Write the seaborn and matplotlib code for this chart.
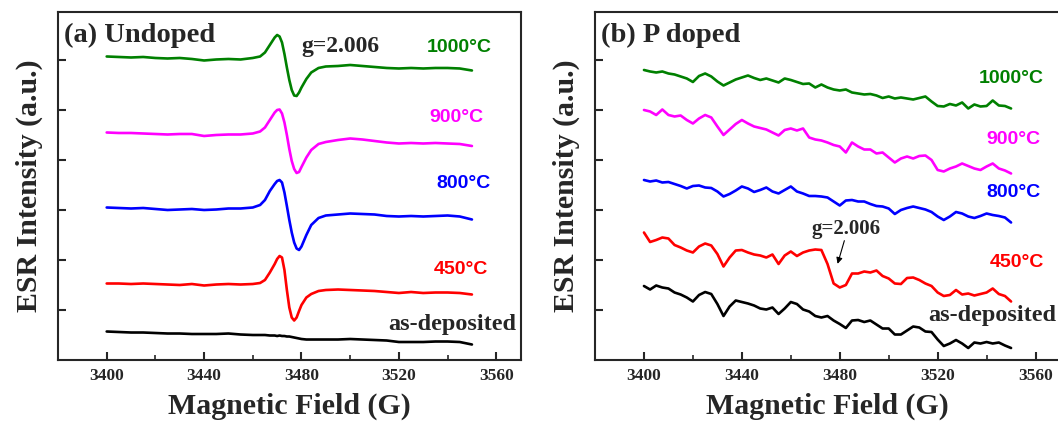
import matplotlib
matplotlib.use("Agg")
import matplotlib.pyplot as plt
import seaborn as sns
from matplotlib.ticker import MultipleLocator

# ---------- panel (a): undoped ----------
field_a = [3400, 3405, 3410, 3415, 3420, 3425, 3430, 3435, 3440, 3445, 3450,
           3455, 3460, 3463, 3465, 3467, 3469, 3470, 3471, 3472, 3473, 3474,
           3475, 3476, 3477, 3478, 3479, 3480, 3482, 3484, 3487, 3490, 3495,
           3500, 3505, 3510, 3515, 3520, 3525, 3530, 3535, 3540, 3545, 3550]

a_1000 = [6.07, 6.06, 6.05, 6.06, 6.04, 6.03, 6.04, 6.02, 5.99, 6.01, 6.02,
          6.01, 6.04, 6.07, 6.15, 6.30, 6.45, 6.50, 6.47, 6.35, 6.12, 5.85,
          5.60, 5.40, 5.29, 5.28, 5.35, 5.45, 5.62, 5.75, 5.84, 5.87, 5.88,
          5.90, 5.88, 5.86, 5.84, 5.83, 5.84, 5.83, 5.84, 5.84, 5.83, 5.79]
a_900 = [4.55, 4.54, 4.54, 4.53, 4.52, 4.51, 4.52, 4.52, 4.48, 4.50, 4.51,
         4.51, 4.53, 4.57, 4.65, 4.80, 4.95, 5.00, 5.01, 4.93, 4.75, 4.50,
         4.22, 3.98, 3.82, 3.74, 3.76, 3.86, 4.05, 4.20, 4.32, 4.36, 4.40,
         4.43, 4.41, 4.38, 4.35, 4.33, 4.34, 4.33, 4.34, 4.33, 4.32, 4.28]
a_800 = [3.05, 3.04, 3.03, 3.04, 3.02, 3.00, 3.01, 3.02, 3.00, 3.01, 3.03,
         3.03, 3.05, 3.10, 3.20, 3.38, 3.52, 3.58, 3.60, 3.55, 3.35, 3.08,
         2.80, 2.55, 2.35, 2.23, 2.20, 2.27, 2.50, 2.70, 2.84, 2.89, 2.91,
         2.93, 2.92, 2.91, 2.88, 2.87, 2.88, 2.87, 2.88, 2.89, 2.87, 2.81]
a_450 = [1.53, 1.53, 1.52, 1.53, 1.52, 1.51, 1.50, 1.52, 1.49, 1.51, 1.52,
         1.51, 1.52, 1.54, 1.60, 1.75, 1.92, 2.02, 2.08, 2.05, 1.80, 1.40,
         1.05, 0.85, 0.79, 0.85, 0.98, 1.10, 1.25, 1.32, 1.38, 1.40, 1.41,
         1.40, 1.39, 1.38, 1.36, 1.34, 1.36, 1.34, 1.35, 1.35, 1.34, 1.31]
a_asdep = [0.57, 0.56, 0.55, 0.55, 0.54, 0.53, 0.53, 0.52, 0.52, 0.52, 0.53,
           0.51, 0.50, 0.50, 0.50, 0.49, 0.49, 0.48, 0.49, 0.48, 0.48, 0.47,
           0.47, 0.46, 0.45, 0.44, 0.43, 0.42, 0.41, 0.41, 0.41, 0.41, 0.41,
           0.42, 0.41, 0.40, 0.39, 0.36, 0.36, 0.36, 0.37, 0.37, 0.36, 0.31]

# ---------- panel (b): P doped ----------
field_b = [3400, 3402.5, 3405, 3407.5, 3410, 3412.5, 3415, 3417.5, 3420, 3422.5,
           3425, 3427.5, 3430, 3432.5, 3435, 3437.5, 3440, 3442.5, 3445, 3447.5,
           3450, 3452.5, 3455, 3457.5, 3460, 3462.5, 3465, 3467.5, 3470, 3472.5,
           3475, 3477.5, 3480, 3482.5, 3485, 3487.5, 3490, 3492.5, 3495, 3497.5,
           3500, 3502.5, 3505, 3507.5, 3510, 3512.5, 3515, 3517.5, 3520, 3522.5,
           3525, 3527.5, 3530, 3532.5, 3535, 3537.5, 3540, 3542.5, 3545, 3547.5,
           3550]

b_1000 = [5.80, 5.77, 5.75, 5.77, 5.73, 5.71, 5.67, 5.63, 5.56, 5.68,
          5.73, 5.67, 5.57, 5.49, 5.55, 5.61, 5.65, 5.69, 5.64, 5.60,
          5.63, 5.59, 5.55, 5.63, 5.60, 5.56, 5.52, 5.53, 5.45, 5.51,
          5.45, 5.41, 5.39, 5.41, 5.35, 5.33, 5.31, 5.32, 5.29, 5.24,
          5.27, 5.23, 5.25, 5.23, 5.21, 5.24, 5.27, 5.17, 5.08, 5.07,
          5.12, 5.09, 5.15, 5.03, 5.11, 5.07, 5.08, 5.19, 5.09, 5.08,
          5.03]
b_900 = [5.00, 4.97, 4.90, 5.01, 4.90, 4.87, 4.89, 4.80, 4.73, 4.83,
         4.90, 4.85, 4.67, 4.50, 4.61, 4.72, 4.80, 4.73, 4.67, 4.64,
         4.61, 4.55, 4.49, 4.60, 4.63, 4.59, 4.63, 4.45, 4.41, 4.39,
         4.35, 4.30, 4.27, 4.15, 4.35, 4.27, 4.21, 4.21, 4.13, 4.15,
         4.05, 3.95, 4.03, 4.07, 4.03, 4.08, 4.09, 4.00, 3.80, 3.77,
         3.83, 3.87, 3.93, 3.88, 3.83, 3.80, 3.87, 3.93, 3.83, 3.79,
         3.73]
b_800 = [3.60, 3.57, 3.59, 3.55, 3.56, 3.52, 3.48, 3.43, 3.48, 3.49,
         3.45, 3.44, 3.37, 3.27, 3.32, 3.39, 3.47, 3.43, 3.36, 3.40,
         3.45, 3.37, 3.33, 3.40, 3.47, 3.37, 3.33, 3.28, 3.28, 3.27,
         3.25, 3.17, 3.09, 3.19, 3.20, 3.17, 3.17, 3.12, 3.08, 3.07,
         3.03, 2.92, 3.00, 3.04, 3.07, 3.04, 3.01, 2.96, 2.87, 2.80,
         2.87, 2.96, 2.93, 2.87, 2.84, 2.88, 2.93, 2.90, 2.88, 2.85,
         2.75]
b_450 = [2.55, 2.36, 2.40, 2.45, 2.43, 2.30, 2.25, 2.19, 2.15, 2.27,
         2.33, 2.29, 2.12, 1.87, 2.05, 2.19, 2.20, 2.15, 2.11, 2.09,
         2.05, 2.11, 1.92, 2.09, 2.17, 2.08, 2.15, 2.19, 2.21, 2.20,
         1.92, 1.53, 1.45, 1.50, 1.73, 1.73, 1.77, 1.75, 1.79, 1.68,
         1.63, 1.53, 1.52, 1.64, 1.65, 1.60, 1.53, 1.48, 1.35, 1.28,
         1.30, 1.40, 1.31, 1.33, 1.29, 1.32, 1.35, 1.43, 1.32, 1.28,
         1.17]
b_asdep = [1.48, 1.41, 1.49, 1.45, 1.43, 1.35, 1.31, 1.25, 1.17, 1.30,
           1.36, 1.32, 1.12, 0.88, 1.07, 1.19, 1.16, 1.13, 1.09, 1.03,
           1.01, 1.05, 0.92, 1.03, 1.16, 1.12, 1.01, 0.97, 0.88, 0.85,
           0.88, 0.79, 0.72, 0.64, 0.79, 0.80, 0.76, 0.79, 0.71, 0.63,
           0.63, 0.51, 0.51, 0.59, 0.67, 0.65, 0.57, 0.56, 0.41, 0.28,
           0.33, 0.40, 0.33, 0.24, 0.35, 0.33, 0.36, 0.33, 0.35, 0.29,
           0.24]

labels = ["1000°C", "900°C", "800°C", "450°C", "as-deposited"]
colors = ["#008000", "#ff00ff", "#0000ff", "#ff0000", "#000000"]

sns.set_theme(style="ticks")
plt.rcParams["font.family"] = ["Liberation Serif", "DejaVu Serif"]
plt.rcParams["font.weight"] = "bold"
plt.rcParams["axes.labelweight"] = "bold"
plt.rcParams["axes.linewidth"] = 1.5

fig = plt.figure(figsize=(10.58, 4.22), dpi=100)
ax_a = fig.add_axes([0.0548, 0.1469, 0.4373, 0.8247])
ax_b = fig.add_axes([0.5624, 0.1469, 0.4395, 0.8247])

series_a = [a_1000, a_900, a_800, a_450, a_asdep]
series_b = [b_1000, b_900, b_800, b_450, b_asdep]

for vals, c in zip(series_a, colors):
    sns.lineplot(x=field_a, y=vals, ax=ax_a, color=c, linewidth=1.9)
for vals, c in zip(series_b, colors):
    sns.lineplot(x=field_b, y=vals, ax=ax_b, color=c, linewidth=1.9)

for ax in (ax_a, ax_b):
    ax.set_xlim(3380, 3570)
    ax.set_ylim(0, 6.96)
    ax.xaxis.set_major_locator(MultipleLocator(40))
    ax.xaxis.set_minor_locator(MultipleLocator(20))
    ax.set_yticks([1, 2, 3, 4, 5, 6])
    ax.set_yticklabels([])
    ax.tick_params(which="major", direction="in", length=6, width=1.5,
                   labelsize=12.5, pad=6)
    ax.tick_params(which="minor", direction="in", length=3.5, width=1.2)
    for lab in ax.get_xticklabels():
        lab.set_fontweight("bold")
    ax.set_xlabel("Magnetic Field (G)", fontsize=21.5, labelpad=6)
    ax.set_ylabel("ESR Intensity (a.u.)", fontsize=21.5, labelpad=5)
    for sp in ax.spines.values():
        sp.set_visible(True)
        sp.set_linewidth(1.5)

sans = ["Liberation Sans", "DejaVu Sans"]

# panel (a) annotations
ax_a.text(0.012, 0.914, "(a) Undoped", transform=ax_a.transAxes,
          fontsize=20.5, fontweight="bold", va="baseline")
ax_a.text(3480, 6.26, "g=2.006", fontsize=17, fontweight="bold", va="center")
pos_a = [(3558.2, 6.24), (3554.9, 4.84), (3557.8, 3.52), (3556.6, 1.82)]
for (x, y), lab, c in zip(pos_a, labels[:4], colors[:4]):
    ax_a.text(x, y, lab, color=c, fontsize=14, fontweight="bold",
              family=sans, ha="right", va="center")
ax_a.text(3568, 0.72, labels[4], fontsize=17.5, fontweight="bold",
          ha="right", va="center")

# panel (b) annotations
ax_b.text(0.012, 0.914, "(b) P doped", transform=ax_b.transAxes,
          fontsize=20.5, fontweight="bold", va="baseline")
pos_b = [(3563.2, 5.62), (3562.0, 4.40), (3562.0, 3.34), (3563.6, 1.96)]
for (x, y), lab, c in zip(pos_b, labels[:4], colors[:4]):
    ax_b.text(x, y, lab, color=c, fontsize=14, fontweight="bold",
              family=sans, ha="right", va="center")
ax_b.text(3516.1, 0.90, labels[4], fontsize=17.5, fontweight="bold",
          ha="left", va="center", clip_on=False)
ax_b.text(3468.5, 2.62, "g=2.006", fontsize=15, fontweight="bold", va="center")
ax_b.annotate("", xy=(3478.8, 1.87), xytext=(3482.2, 2.44),
              arrowprops=dict(arrowstyle="-|>", color="black", lw=0.8,
                              mutation_scale=9))

fig.savefig("out.png", dpi=100)
